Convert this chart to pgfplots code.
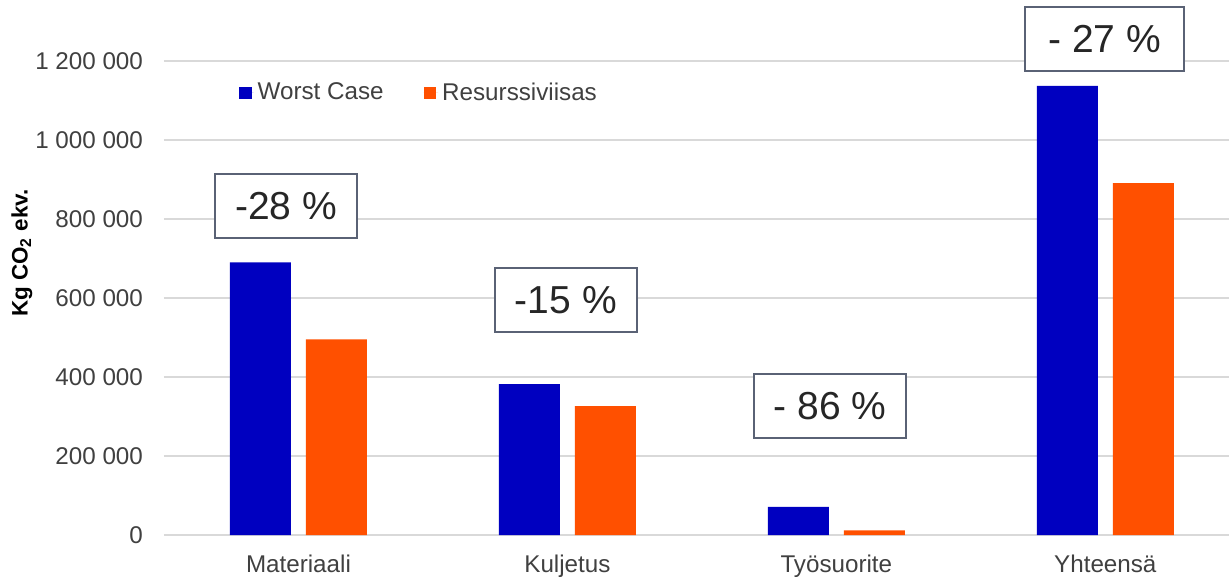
\documentclass[border=0pt]{standalone}
\usepackage{pgfplots}
\pgfplotsset{compat=1.18}
\usepackage{fontspec}
\setmainfont{Liberation Sans}
\definecolor{wc}{RGB}{0,0,192}
\definecolor{rv}{RGB}{255,80,0}
\definecolor{gridc}{RGB}{217,217,217}
\definecolor{tickc}{RGB}{64,64,64}
\definecolor{boxc}{RGB}{90,98,117}
\begin{document}
\begin{tikzpicture}
\useasboundingbox (-82pt,-21pt) rectangle (532.5pt,267.5pt);
\begin{axis}[
  scale only axis,
  width=532.5pt, height=237pt,
  xmin=-0.5, xmax=3.46,
  ymin=0, ymax=1200000,
  clip=false,
  axis line style={draw=none},
  ymajorgrids, grid style={gridc, line width=0.8pt},
  major tick length=0pt,
  ytick={0,200000,400000,600000,800000,1000000,1200000},
  yticklabels={0,200 000,400 000,600 000,800 000,1 000 000,1 200 000},
  xtick={0,1,2,3},
  xticklabels={Materiaali,Kuljetus,Työsuorite,Yhteensä},
  tick label style={font=\fontsize{12.1}{14}\selectfont, text=tickc},
  yticklabel style={xshift=-7pt},
  xticklabel style={yshift=-6.5pt},
  scaled y ticks=false,
  ylabel={\textbf{Kg CO\textsubscript{2} ekv.}},
  ylabel style={font=\fontsize{11.2}{13}\selectfont, at={(rel axis cs:0,0.595)}, anchor=center, yshift=71pt},
  ybar=7.5pt, bar width=30.5pt,
  legend columns=2,
  legend style={draw=none, fill=none, at={(rel axis cs:0.0701,0.9325)}, anchor=west,
    inner sep=0pt, font=\fontsize{12.1}{14}\selectfont, text=tickc,
    /tikz/every even column/.append style={column sep=18pt}},
  legend image code/.code={\fill[#1] (0pt,-3.2pt) rectangle (6.4pt,3.2pt); \path (0pt,0pt) -- (7.3pt,0pt);},
]
\addplot[fill=wc, draw=none] coordinates {(0,690000) (1,382000) (2,71000) (3,1137000)};
\addplot[fill=rv, draw=none] coordinates {(0,495000) (1,326000) (2,12000) (3,891000)};
\legend{Worst Case, Resurssiviisas}
\begin{scope}[every node/.style={draw=boxc, line width=0.8pt, fill=white, text=black!85,
   font=\fontsize{19.5}{22}\selectfont, minimum height=32pt, inner sep=0pt}]
\node[minimum width=71pt] at (axis cs:-0.046,833000) {-28 \%\hspace{7pt}};
\node[minimum width=71pt] at (axis cs:0.994,595000) {-15 \%\hspace{7pt}};
\node[minimum width=76pt] at (axis cs:1.976,327000) {- 86 \%\hspace{7pt}};
\node[minimum width=79.5pt] at (axis cs:2.998,1256000) {- 27 \%\hspace{7pt}};
\end{scope}
\end{axis}
\end{tikzpicture}
\end{document}
